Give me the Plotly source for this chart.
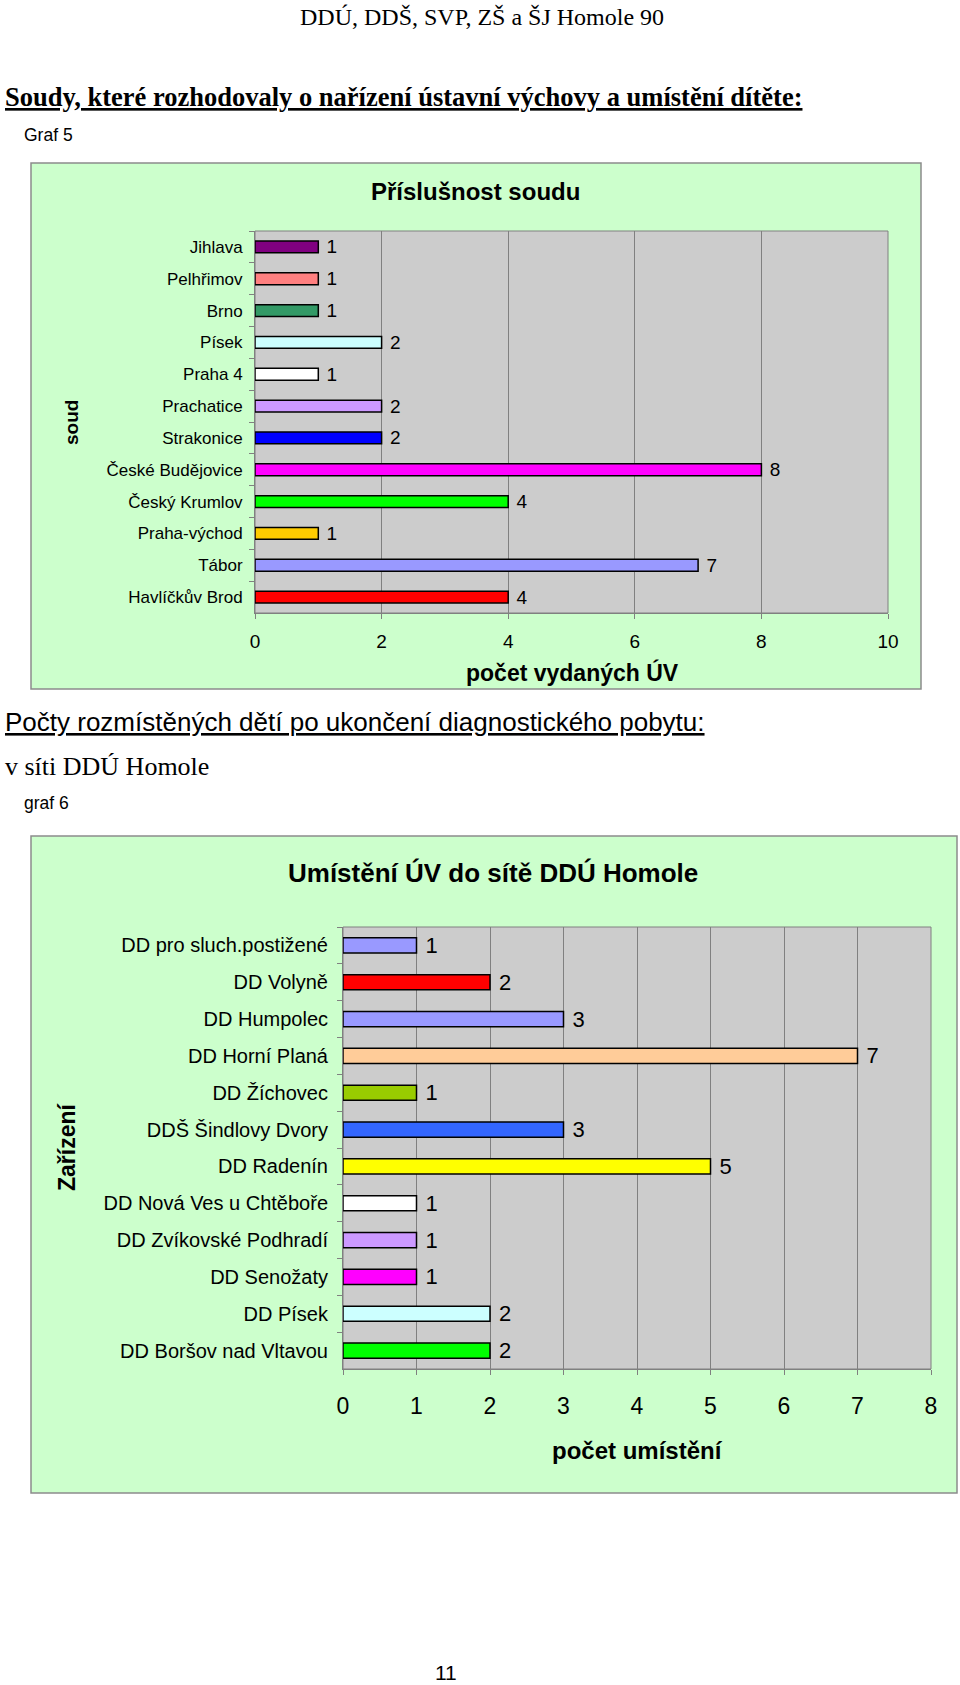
import plotly.graph_objects as go

W, H = 960, 1685

# ---- data: chart 1 (Graf 5) ----
courts = ["Jihlava", "Pelhřimov", "Brno", "Písek", "Praha 4", "Prachatice",
          "Strakonice", "České Budějovice", "Český Krumlov", "Praha-východ",
          "Tábor", "Havlíčkův Brod"]
court_counts = [1, 1, 1, 2, 1, 2, 2, 8, 4, 1, 7, 4]
court_colors = ["#800080", "#FF8080", "#339966", "#CCFFFF", "#FFFFFF", "#CC99FF",
                "#0000FF", "#FF00FF", "#00FF00", "#FFCC00", "#9999FF", "#FF0000"]
x1_ticks = [0, 2, 4, 6, 8, 10]

# ---- data: chart 2 (graf 6) ----
facilities = ["DD pro sluch.postižené", "DD Volyně", "DD Humpolec", "DD Horní Planá",
              "DD Žíchovec", "DDŠ Šindlovy Dvory", "DD Radenín",
              "DD Nová Ves u Chtěboře", "DD Zvíkovské Podhradí", "DD Senožaty",
              "DD Písek", "DD Boršov nad Vltavou"]
facility_counts = [1, 2, 3, 7, 1, 3, 5, 1, 1, 1, 2, 2]
facility_colors = ["#9999FF", "#FF0000", "#9999FF", "#FFCC99", "#99CC00", "#3366FF",
                   "#FFFF00", "#FFFFFF", "#CC99FF", "#FF00FF", "#CCFFFF", "#00FF00"]
x2_ticks = [0, 1, 2, 3, 4, 5, 6, 7, 8]

SANS = "Arial, Liberation Sans, sans-serif"
SERIF = "Times New Roman, Liberation Serif, serif"


def px(x):
    return x / W


def py(y):
    return 1 - y / H


fig = go.Figure()
fig.add_trace(go.Bar(
    y=courts, x=court_counts, orientation="h", width=0.37,
    marker=dict(color=court_colors, line=dict(color="#000000", width=1.5)),
    texttemplate=" %{x}", textposition="outside", constraintext="none",
    textfont=dict(family=SANS, size=19, color="#000000"), cliponaxis=False,
    xaxis="x", yaxis="y", hoverinfo="skip"))
fig.add_trace(go.Bar(
    y=facilities, x=facility_counts, orientation="h", width=0.41,
    marker=dict(color=facility_colors, line=dict(color="#000000", width=1.5)),
    texttemplate=" %{x}", textposition="outside", constraintext="none",
    textfont=dict(family=SANS, size=22, color="#000000"), cliponaxis=False,
    xaxis="x2", yaxis="y2", hoverinfo="skip"))

axis_common = dict(showline=True, linecolor="#808080", linewidth=1, automargin=False,
                   ticks="outside", ticklen=5, tickcolor="#808080", zeroline=False,
                   fixedrange=True)

fig.update_layout(
    width=W, height=H, margin=dict(l=0, r=0, t=0, b=0, pad=0, autoexpand=False),
    paper_bgcolor="white", plot_bgcolor="rgba(0,0,0,0)", showlegend=False,
    xaxis=dict(domain=[px(255), px(888)], anchor="y", range=[0, 10],
               tickvals=x1_ticks, showgrid=True, gridcolor="#808080", gridwidth=1,
               ticklabelstandoff=6,
               tickfont=dict(family=SANS, size=19, color="#000000"), **axis_common),
    yaxis=dict(domain=[py(613), py(231)], anchor="x", type="category",
               autorange="reversed", tickson="boundaries", showgrid=False,
               ticklabelstandoff=8,
               tickfont=dict(family=SANS, size=17, color="#000000"), **axis_common),
    xaxis2=dict(domain=[px(343), px(931)], anchor="y2", range=[0, 8],
                tickvals=x2_ticks, showgrid=True, gridcolor="#808080", gridwidth=1,
                ticklabelstandoff=11,
                tickfont=dict(family=SANS, size=23, color="#000000"), **axis_common),
    yaxis2=dict(domain=[py(1369), py(927)], anchor="x2", type="category",
                autorange="reversed", tickson="boundaries", showgrid=False,
                ticklabelstandoff=10,
                tickfont=dict(family=SANS, size=20, color="#000000"), **axis_common),
)

shapes = [
    dict(type="rect", xref="paper", yref="paper", x0=px(31), x1=px(921),
         y0=py(689), y1=py(163), fillcolor="#CCFFCC",
         line=dict(color="#8C8C8C", width=1.5), layer="below"),
    dict(type="rect", xref="paper", yref="paper", x0=px(31), x1=px(957),
         y0=py(1493), y1=py(836), fillcolor="#CCFFCC",
         line=dict(color="#8C8C8C", width=1.5), layer="below"),
    dict(type="rect", xref="x domain", yref="y domain", x0=0, x1=1, y0=0, y1=1,
         fillcolor="#CCCCCC", line=dict(color="#808080", width=1), layer="below"),
    dict(type="rect", xref="x2 domain", yref="y2 domain", x0=0, x1=1, y0=0, y1=1,
         fillcolor="#CCCCCC", line=dict(color="#808080", width=1), layer="below"),
]
fig.update_layout(shapes=shapes)


def ann(text, x, y, size, family=SANS, xanchor="left", angle=0):
    return dict(text=text, x=px(x), y=py(y), xref="paper", yref="paper",
                xanchor=xanchor, yanchor="middle", showarrow=False, textangle=angle,
                font=dict(family=family, size=size, color="#000000"))


annotations = [
    ann("DDÚ, DDŠ, SVP, ZŠ a ŠJ Homole 90", 482, 17, 24, SERIF, "center"),
    ann("<b><u>Soudy, které rozhodovaly o nařízení ústavní výchovy a umístění dítěte:</u></b>",
        3, 97, 26.5, SERIF),
    ann("Graf 5", 22, 135, 17.5),
    ann("<b>Příslušnost soudu</b>", 475, 192, 24, SANS, "center"),
    ann("<b>soud</b>", 71, 423, 19, SANS, "center", -90),
    ann("<b>počet vydaných ÚV</b>", 572, 672, 23, SANS, "center"),
    ann("<u>Počty rozmístěných dětí po ukončení diagnostického pobytu:</u>", 3, 722, 26),
    ann("v síti DDÚ Homole", 3, 766, 26, SERIF),
    ann("graf 6", 22, 803, 17.5),
    ann("<b>Umístění ÚV do sítě DDÚ Homole</b>", 493, 873, 26, SANS, "center"),
    ann("<b>Zařízení</b>", 67, 1147, 23, SANS, "center", -90),
    ann("<b>počet umístění</b>", 637, 1450, 24, SANS, "center"),
    ann("11", 446, 1672, 21, SANS, "center"),
]
fig.update_layout(annotations=annotations)

fig.write_html("out.html", config={"displayModeBar": False, "staticPlot": True},
               post_script="document.body.style.margin='0';document.body.style.overflow='hidden';")
